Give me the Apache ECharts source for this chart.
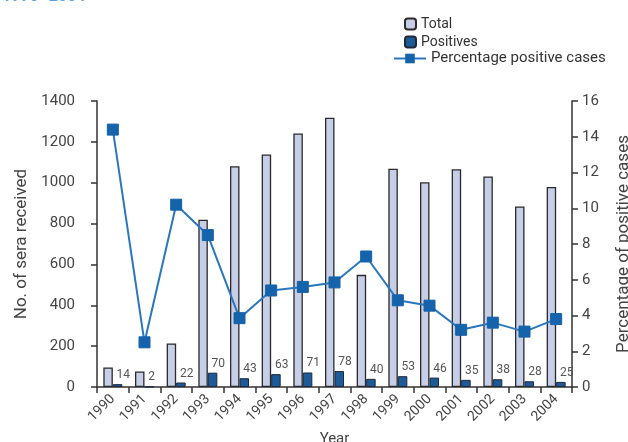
<!DOCTYPE html>
<html>
<head>
<meta charset="utf-8">
<style>
  html, body { margin: 0; padding: 0; background: #ffffff; }
  #chart { width: 628px; height: 442px; }
</style>
<script src="https://cdn.jsdelivr.net/npm/echarts@6/dist/echarts.min.js"></script>
</head>
<body>
<div id="chart"></div>
<script>
// Sera received and positive results per year, 1990-2004
const years = ['1990','1991','1992','1993','1994','1995','1996','1997','1998','1999','2000','2001','2002','2003','2004'];
const totalSera = [96, 76, 213, 819, 1081, 1138, 1241, 1318, 549, 1068, 1002, 1066, 1031, 884, 979];
const positives = [14, 2, 22, 70, 43, 63, 71, 78, 40, 53, 46, 35, 38, 28, 25];
const pctPositive = [14.4, 2.5, 10.2, 8.5, 3.85, 5.4, 5.6, 5.85, 7.3, 4.85, 4.55, 3.2, 3.6, 3.1, 3.8];
const leftTicks = [0, 200, 400, 600, 800, 1000, 1200, 1400];
const rightTicks = [0, 2, 4, 6, 8, 10, 12, 14, 16];

const FONT = 'Roboto, "Noto Sans", sans-serif';
const AXIS_COLOR = '#333333';
const TEXT_COLOR = '#444444';

const chart = echarts.init(document.getElementById('chart'), null, { renderer: 'canvas' });

chart.setOption({
  animation: false,
  textStyle: { fontFamily: FONT },
  title: {
    text: '1990\u20132004',
    left: 2,
    top: -11,
    padding: 0,
    textStyle: { color: '#5aa3dc', fontSize: 16, fontWeight: 'bold', fontFamily: FONT }
  },
  legend: [
    {
      orient: 'vertical',
      left: 404,
      top: 17,
      padding: 0,
      itemWidth: 11,
      itemHeight: 11,
      itemGap: 4,
      textStyle: { fontSize: 14, color: '#333', fontFamily: FONT },
      data: ['Total', 'Positives']
    },
    {
      orient: 'vertical',
      left: 393,
      top: 51,
      padding: 0,
      itemWidth: 32,
      itemHeight: 12,
      textStyle: { fontSize: 15, color: '#333', fontFamily: FONT },
      data: ['Percentage positive cases']
    }
  ],
  grid: { left: 97, right: 56, top: 101, bottom: 55, outerBoundsMode: 'none', containLabel: false },
  xAxis: {
    type: 'category',
    data: years,
    name: 'Year',
    nameLocation: 'middle',
    nameGap: 45,
    nameTextStyle: { fontSize: 15, color: TEXT_COLOR, fontFamily: FONT },
    axisLine: { lineStyle: { color: AXIS_COLOR, width: 1.5 } },
    axisTick: { show: true, alignWithLabel: false, length: 6, lineStyle: { color: AXIS_COLOR, width: 1.5 } },
    axisLabel: { rotate: 45, margin: 10, fontSize: 14, color: TEXT_COLOR, fontFamily: FONT },
    splitLine: { show: false }
  },
  yAxis: [
    {
      type: 'value',
      min: leftTicks[0],
      max: leftTicks[leftTicks.length - 1],
      interval: leftTicks[1] - leftTicks[0],
      name: 'No. of sera received',
      nameLocation: 'middle',
      nameRotate: 90,
      nameGap: 66,
      nameTextStyle: { fontSize: 17, color: TEXT_COLOR, fontFamily: FONT },
      axisLine: { show: true, lineStyle: { color: AXIS_COLOR, width: 1.5 } },
      axisTick: { show: true, length: 6, lineStyle: { color: AXIS_COLOR, width: 1.5 } },
      axisLabel: { margin: 22, fontSize: 15, color: TEXT_COLOR, fontFamily: FONT, formatter: v => String(v) },
      splitLine: { show: false }
    },
    {
      type: 'value',
      position: 'right',
      min: rightTicks[0],
      max: rightTicks[rightTicks.length - 1],
      interval: rightTicks[1] - rightTicks[0],
      name: 'Percentage of positive cases',
      nameLocation: 'middle',
      nameRotate: 90,
      nameGap: 43,
      nameTextStyle: { fontSize: 17, color: TEXT_COLOR, fontFamily: FONT },
      axisLine: { show: true, lineStyle: { color: AXIS_COLOR, width: 1.5 } },
      axisTick: { show: true, length: 6, lineStyle: { color: AXIS_COLOR, width: 1.5 } },
      axisLabel: { margin: 10, fontSize: 15, color: TEXT_COLOR, fontFamily: FONT, formatter: v => String(v) },
      splitLine: { show: false }
    }
  ],
  series: [
    {
      name: 'Total',
      type: 'bar',
      yAxisIndex: 0,
      data: totalSera,
      barWidth: 9.5,
      barGap: '0%',
      itemStyle: { color: '#c6cee8', borderColor: '#2a2a2a', borderWidth: 1.3 }
    },
    {
      name: 'Positives',
      type: 'bar',
      yAxisIndex: 0,
      data: positives,
      barWidth: 9.5,
      barGap: '0%',
      itemStyle: { color: '#1c5b98', borderColor: '#1e2a3a', borderWidth: 1 },
      label: {
        show: true,
        position: 'top',
        align: 'left',
        distance: 3,
        offset: [-1, 0],
        fontSize: 12,
        color: '#555555',
        fontFamily: FONT
      }
    },
    {
      name: 'Percentage positive cases',
      type: 'line',
      yAxisIndex: 1,
      data: pctPositive,
      symbol: 'rect',
      symbolSize: 11,
      lineStyle: { color: '#2a77bd', width: 2 },
      itemStyle: { color: '#1463ab', borderColor: '#1463ab' },
      z: 5
    }
  ]
});
</script>
</body>
</html>
